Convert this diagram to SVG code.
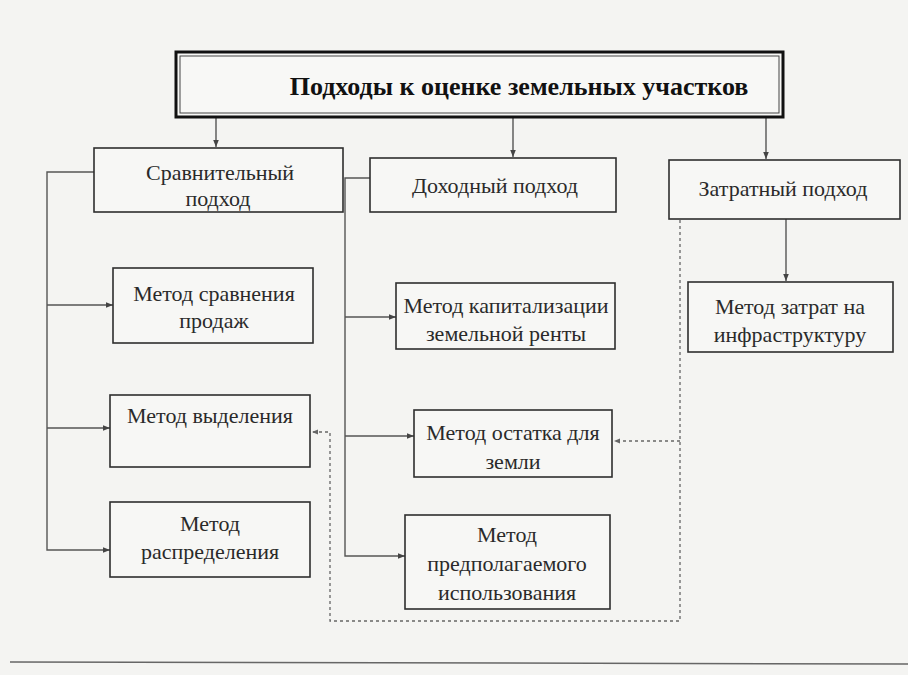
<svg xmlns="http://www.w3.org/2000/svg" width="908" height="675" viewBox="0 0 908 675">
<style>
.bg{fill:#f4f4f2}
.box{fill:#f7f7f5;stroke:#2e2e2e;stroke-width:1.6}
.t{font-family:'Liberation Serif','Times New Roman',serif;font-size:22px;fill:#2a2a2a;text-anchor:middle}
.tb{font-family:'Liberation Serif','Times New Roman',serif;font-size:26px;font-weight:bold;fill:#111;text-anchor:middle}
.c{fill:none;stroke:#555;stroke-width:1.4}
.d{fill:none;stroke:#666;stroke-width:1.3;stroke-dasharray:3 3}
</style>
<defs>
<marker id="a" viewBox="0 0 10 10" refX="10" refY="5" markerWidth="7" markerHeight="7" orient="auto" markerUnits="userSpaceOnUse">
<path d="M0,1 L10,5 L0,9 z" fill="#444"/>
</marker>
<marker id="ad" viewBox="0 0 10 10" refX="10" refY="5" markerWidth="6" markerHeight="6" orient="auto" markerUnits="userSpaceOnUse">
<path d="M0,1 L10,5 L0,9 z" fill="#666"/>
</marker>
</defs>
<rect class="bg" x="0" y="0" width="908" height="675"/>
<line x1="10" y1="662" x2="908" y2="664" stroke="#666" stroke-width="1.5"/>

<g id="connectors">
<path class="c" d="M216,117 V147" marker-end="url(#a)"/>
<path class="c" d="M513,117 V157" marker-end="url(#a)"/>
<path class="c" d="M766,117 V159" marker-end="url(#a)"/>
<path class="c" d="M94,172 H47 V550 H110" marker-end="url(#a)"/>
<path class="c" d="M47,305 H113" marker-end="url(#a)"/>
<path class="c" d="M47,428 H110" marker-end="url(#a)"/>
<path class="c" d="M370,178 H345 V556 H405" marker-end="url(#a)"/>
<path class="c" d="M345,317 H396" marker-end="url(#a)"/>
<path class="c" d="M345,436 H414" marker-end="url(#a)"/>
<path class="c" d="M786,219 V281" marker-end="url(#a)"/>
<path class="d" d="M680,220 V621 H330 V432 H312" marker-end="url(#ad)"/>
<path class="d" d="M680,441 H614" marker-end="url(#ad)"/>
</g>

<g id="title">
<rect x="176" y="52" width="607" height="65" fill="#f8f8f6" stroke="#111" stroke-width="3"/>
<rect x="180" y="56" width="599" height="57" fill="none" stroke="#444" stroke-width="1"/>
<text class="tb" x="519" y="95">Подходы к оценке земельных участков</text>
</g>

<g id="comparative">
<rect class="box" x="94" y="148" width="249" height="64"/>
<text class="t" x="220" y="180">Сравнительный</text>
<text class="t" x="218" y="206">подход</text>
</g>

<g id="income">
<rect class="box" x="370" y="158" width="246" height="54"/>
<text class="t" x="495" y="193">Доходный подход</text>
</g>

<g id="cost">
<rect class="box" x="669" y="160" width="231" height="59"/>
<text class="t" x="783" y="196">Затратный подход</text>
</g>

<g id="sales">
<rect class="box" x="113" y="268" width="200" height="75"/>
<text class="t" x="214" y="301">Метод сравнения</text>
<text class="t" x="214" y="328">продаж</text>
</g>

<g id="extraction">
<rect class="box" x="110" y="395" width="200" height="72"/>
<text class="t" x="210" y="423">Метод выделения</text>
</g>

<g id="allocation">
<rect class="box" x="110" y="502" width="200" height="75"/>
<text class="t" x="210" y="531">Метод</text>
<text class="t" x="210" y="559">распределения</text>
</g>

<g id="capitalization">
<rect class="box" x="396" y="283" width="219" height="66"/>
<text class="t" x="506" y="313">Метод капитализации</text>
<text class="t" x="506" y="341">земельной ренты</text>
</g>

<g id="residual">
<rect class="box" x="414" y="410" width="198" height="67"/>
<text class="t" x="513" y="440">Метод остатка для</text>
<text class="t" x="513" y="469">земли</text>
</g>

<g id="intended">
<rect class="box" x="405" y="515" width="205" height="94"/>
<text class="t" x="507" y="542">Метод</text>
<text class="t" x="507" y="571">предполагаемого</text>
<text class="t" x="507" y="600">использования</text>
</g>

<g id="infrastructure">
<rect class="box" x="688" y="282" width="205" height="70"/>
<text class="t" x="790" y="314">Метод затрат на</text>
<text class="t" x="790" y="342">инфраструктуру</text>
</g>
</svg>
